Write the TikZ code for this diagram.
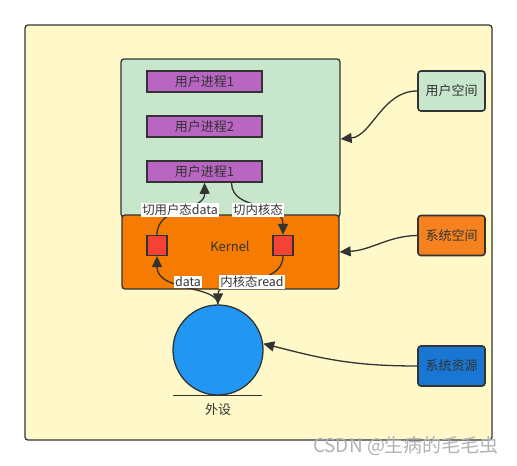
\documentclass[tikz,border=0pt]{standalone}
\usepackage{fontspec}
\setmainfont{Noto Sans CJK SC}
\usepackage{xcolor}
\usetikzlibrary{arrows.meta}
\definecolor{linegray}{HTML}{333333}
\definecolor{bgyellow}{HTML}{FFF9C9}
\definecolor{usergreen}{HTML}{C7E6CB}
\definecolor{kernelorange}{HTML}{F57C00}
\definecolor{tagorange}{HTML}{F5821F}
\definecolor{procpurple}{HTML}{B966C2}
\definecolor{sqred}{HTML}{F44336}
\definecolor{devblue}{HTML}{2196F3}
\definecolor{tagblue}{HTML}{1976D2}
\tikzstyle{areabox} = [draw=linegray, line width=1.3pt, rounded corners=3pt, inner sep=0]
\tikzstyle{procbox} = [draw=linegray, line width=1.6pt, fill=procpurple,
    minimum width=115pt, minimum height=21pt, inner sep=0]
\tikzstyle{sqbox} = [draw=linegray, line width=1.3pt, fill=sqred,
    minimum size=20pt, inner sep=0]
\tikzstyle{tagbox} = [draw=linegray, line width=1.6pt, rounded corners=3pt,
    minimum width=67pt, minimum height=40pt, inner sep=0]
\tikzstyle{flowlabel} = [fill=white, inner sep=1pt, font=\fontsize{12.4}{14}\selectfont]
\tikzstyle{flow} = [draw=linegray, line width=1.3pt, -{Triangle[length=11pt,width=10pt]}]

\begin{document}
\begin{tikzpicture}[x=1pt, y=-1pt, font=\fontsize{13}{15}\selectfont, text=linegray]
\useasboundingbox (0,0) rectangle (517,466);
% outer frame
\draw[draw=linegray, line width=1.3pt, fill=bgyellow, rounded corners=3pt] (25,25) rectangle (492,440);

% user space and kernel
\node[areabox, fill=usergreen, minimum width=219pt, minimum height=158pt] (user) at (230.5,138) {};
\node[procbox] (proc1) at (204.5,81.5) {用户进程1};
\node[procbox] (proc2) at (204.5,126.5) {用户进程2};
\node[procbox] (proc3) at (204.5,171.5) {用户进程1};
\node[areabox, fill=kernelorange, minimum width=217pt, minimum height=74pt] (kernel) at (230.5,252) {};
\node (kerneltxt) at (230,246) {Kernel};
\node[sqbox] (sqL) at (157,245.5) {};
\node[sqbox] (sqR) at (283,245.5) {};

% device
\node[circle, draw=linegray, line width=1.3pt, fill=devblue, minimum size=90pt, inner sep=0] (dev) at (218,350) {};
\draw[linegray, line width=0.8pt] (173,395) -- (262,395);
\node (devtxt) at (218,410) {外设};

% tags on the right
\node[tagbox, fill=usergreen] (tagUser) at (451.5,91) {用户空间};
\node[tagbox, fill=tagorange] (tagSys) at (451.5,235.5) {系统空间};
\node[tagbox, fill=tagblue] (tagRes) at (451.5,366) {系统资源};

% flows inside
\draw[flow] (sqL.north) .. controls (157,205) and (205,212) .. (proc3.south);
\draw[flow] ([xshift=27pt]proc3.south) .. controls (232,212) and (283,200) .. (sqR.north);
\draw[flow] (dev.north) .. controls (218,285) and (157,292) .. (sqL.south);
\draw[flow] (sqR.south) .. controls (283,288) and (218,278) .. (dev.north);
\node[flowlabel] (lblUp) at (180,210) {切用户态data};
\node[flowlabel] (lblDown) at (258,210) {切内核态};
\node[flowlabel] (lblData) at (188,282) {data};
\node[flowlabel] (lblRead) at (252,282) {内核态read};

% flows from the tags
\draw[flow] (tagUser.west) .. controls (382,91) and (372,136) .. ([yshift=-1pt]user.east);
\draw[flow] (tagSys.west) .. controls (388,236) and (372,250) .. (kernel.east);
\draw[flow] (tagRes.west) .. controls (350,366) and (320,358) .. (dev.8);

\node[text=black!30, font=\fontsize{19}{21}\selectfont] (mark) at (406,446) {CSDN @生病的毛毛虫};
\end{tikzpicture}
\end{document}
